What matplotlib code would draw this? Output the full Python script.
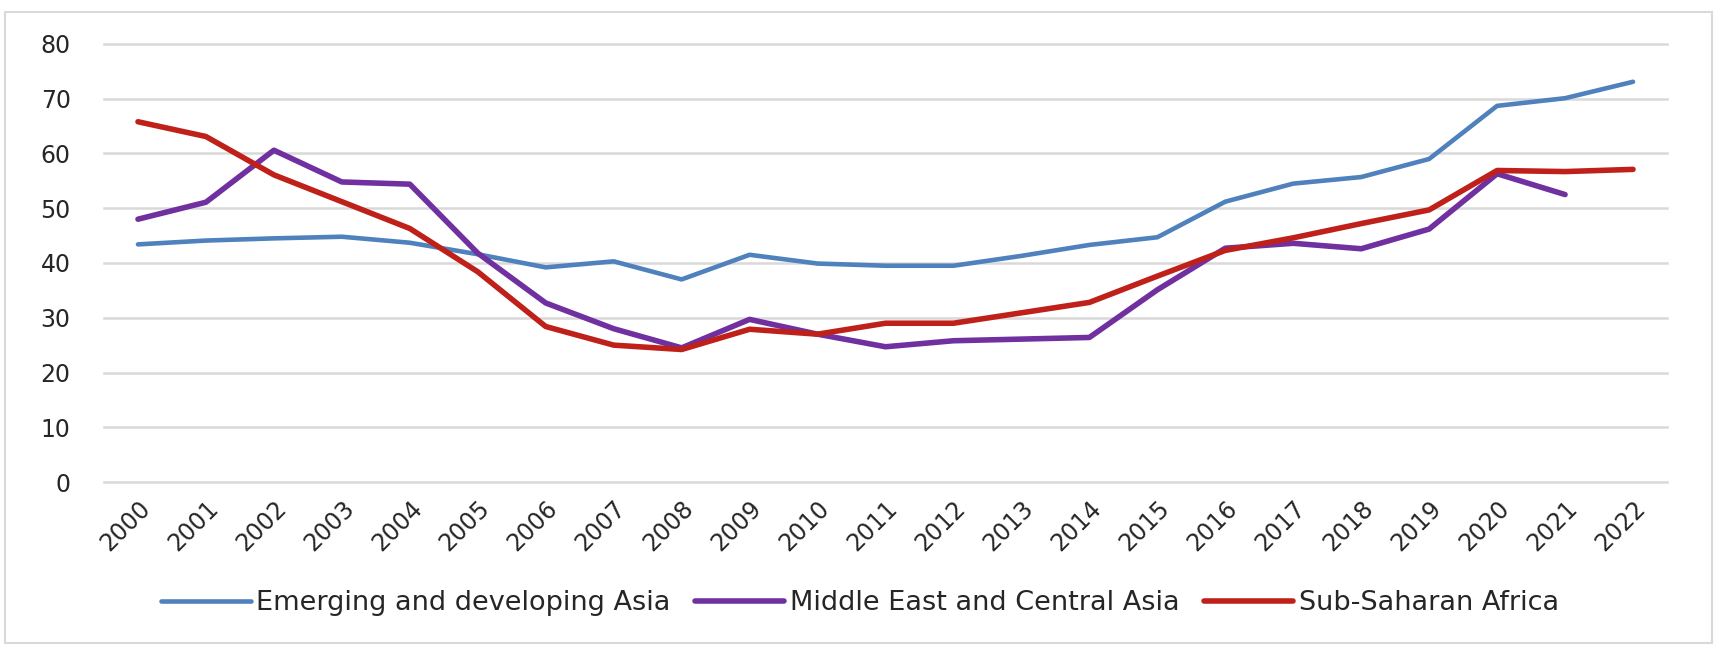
import numpy as np
import matplotlib
matplotlib.use("Agg")
import matplotlib.pyplot as plt
from matplotlib.patches import Rectangle

years = [str(y) for y in range(2000, 2023)]

emerging_asia = [43.4, 44.1, 44.5, 44.8, 43.7, 41.6, 39.2, 40.3, 37.0, 41.5,
                 39.9, 39.5, 39.5, 41.3, 43.3, 44.7, 51.2, 54.5, 55.7, 59.0,
                 68.7, 70.1, 73.1]
middle_east = [48.0, 51.1, 60.6, 54.8, 54.4, 41.8, 32.7, 28.0, 24.5, 29.7,
               27.0, 24.7, 25.8, 26.1, 26.4, 35.1, 42.7, 43.6, 42.6, 46.2,
               56.3, 52.5, np.nan]
ssa = [65.8, 63.1, 56.1, 51.2, 46.3, 38.4, 28.4, 25.0, 24.2, 27.9,
       27.0, 29.0, 29.0, 30.9, 32.8, 37.6, 42.3, 44.6, 47.2, 49.7,
       56.9, 56.7, 57.1]

names = ["Emerging and developing Asia", "Middle East and Central Asia", "Sub-Saharan Africa"]
colors = ["#4f81bd", "#7030a0", "#c0201a"]

fig = plt.figure(figsize=(17.2, 6.54), dpi=100)
ax = fig.add_axes([104 / 1720, 1 - 482 / 654, (1667 - 104) / 1720, (482 - 44) / 654])

# rahmen um das ganze diagramm
fig.patches.append(Rectangle((5 / 1720, 1 - 643 / 654), 1707 / 1720, 631 / 654,
                             transform=fig.transFigure, fill=False,
                             edgecolor="#d9d9d9", lw=1.5))

x = np.arange(len(years))
ax.plot(x, emerging_asia, color=colors[0], lw=3.3, label=names[0], solid_capstyle="round")
ax.plot(x, middle_east, color=colors[1], lw=4.0, label=names[1], solid_capstyle="round")
ax.plot(x, ssa, color=colors[2], lw=4.0, label=names[2], solid_capstyle="round")

ax.set_xlim(-0.5, 22.5)
ax.set_ylim(0, 80)
ax.set_yticks(range(0, 81, 10))
ax.set_xticks(x)
ax.set_xticklabels(years, rotation=45, ha="right", rotation_mode="anchor")
ax.grid(axis="y", color="#d9d9d9", lw=1.8)
for gl in ax.get_ygridlines():
    gl.set_clip_on(False)
ax.set_axisbelow(True)
for s in ax.spines.values():
    s.set_visible(False)
ax.tick_params(axis="y", length=0, pad=24, labelsize=17, labelcolor="#262626")
ax.tick_params(axis="x", length=0, pad=10, labelsize=17, labelcolor="#262626")

fig.legend(loc="center", bbox_to_anchor=(0.5, 1 - 603 / 654), ncol=3, frameon=False,
           fontsize=19.5, handlelength=3.3, handletextpad=0.2, columnspacing=0.9,
           labelcolor="#262626")

fig.savefig("out.png", dpi=100)
